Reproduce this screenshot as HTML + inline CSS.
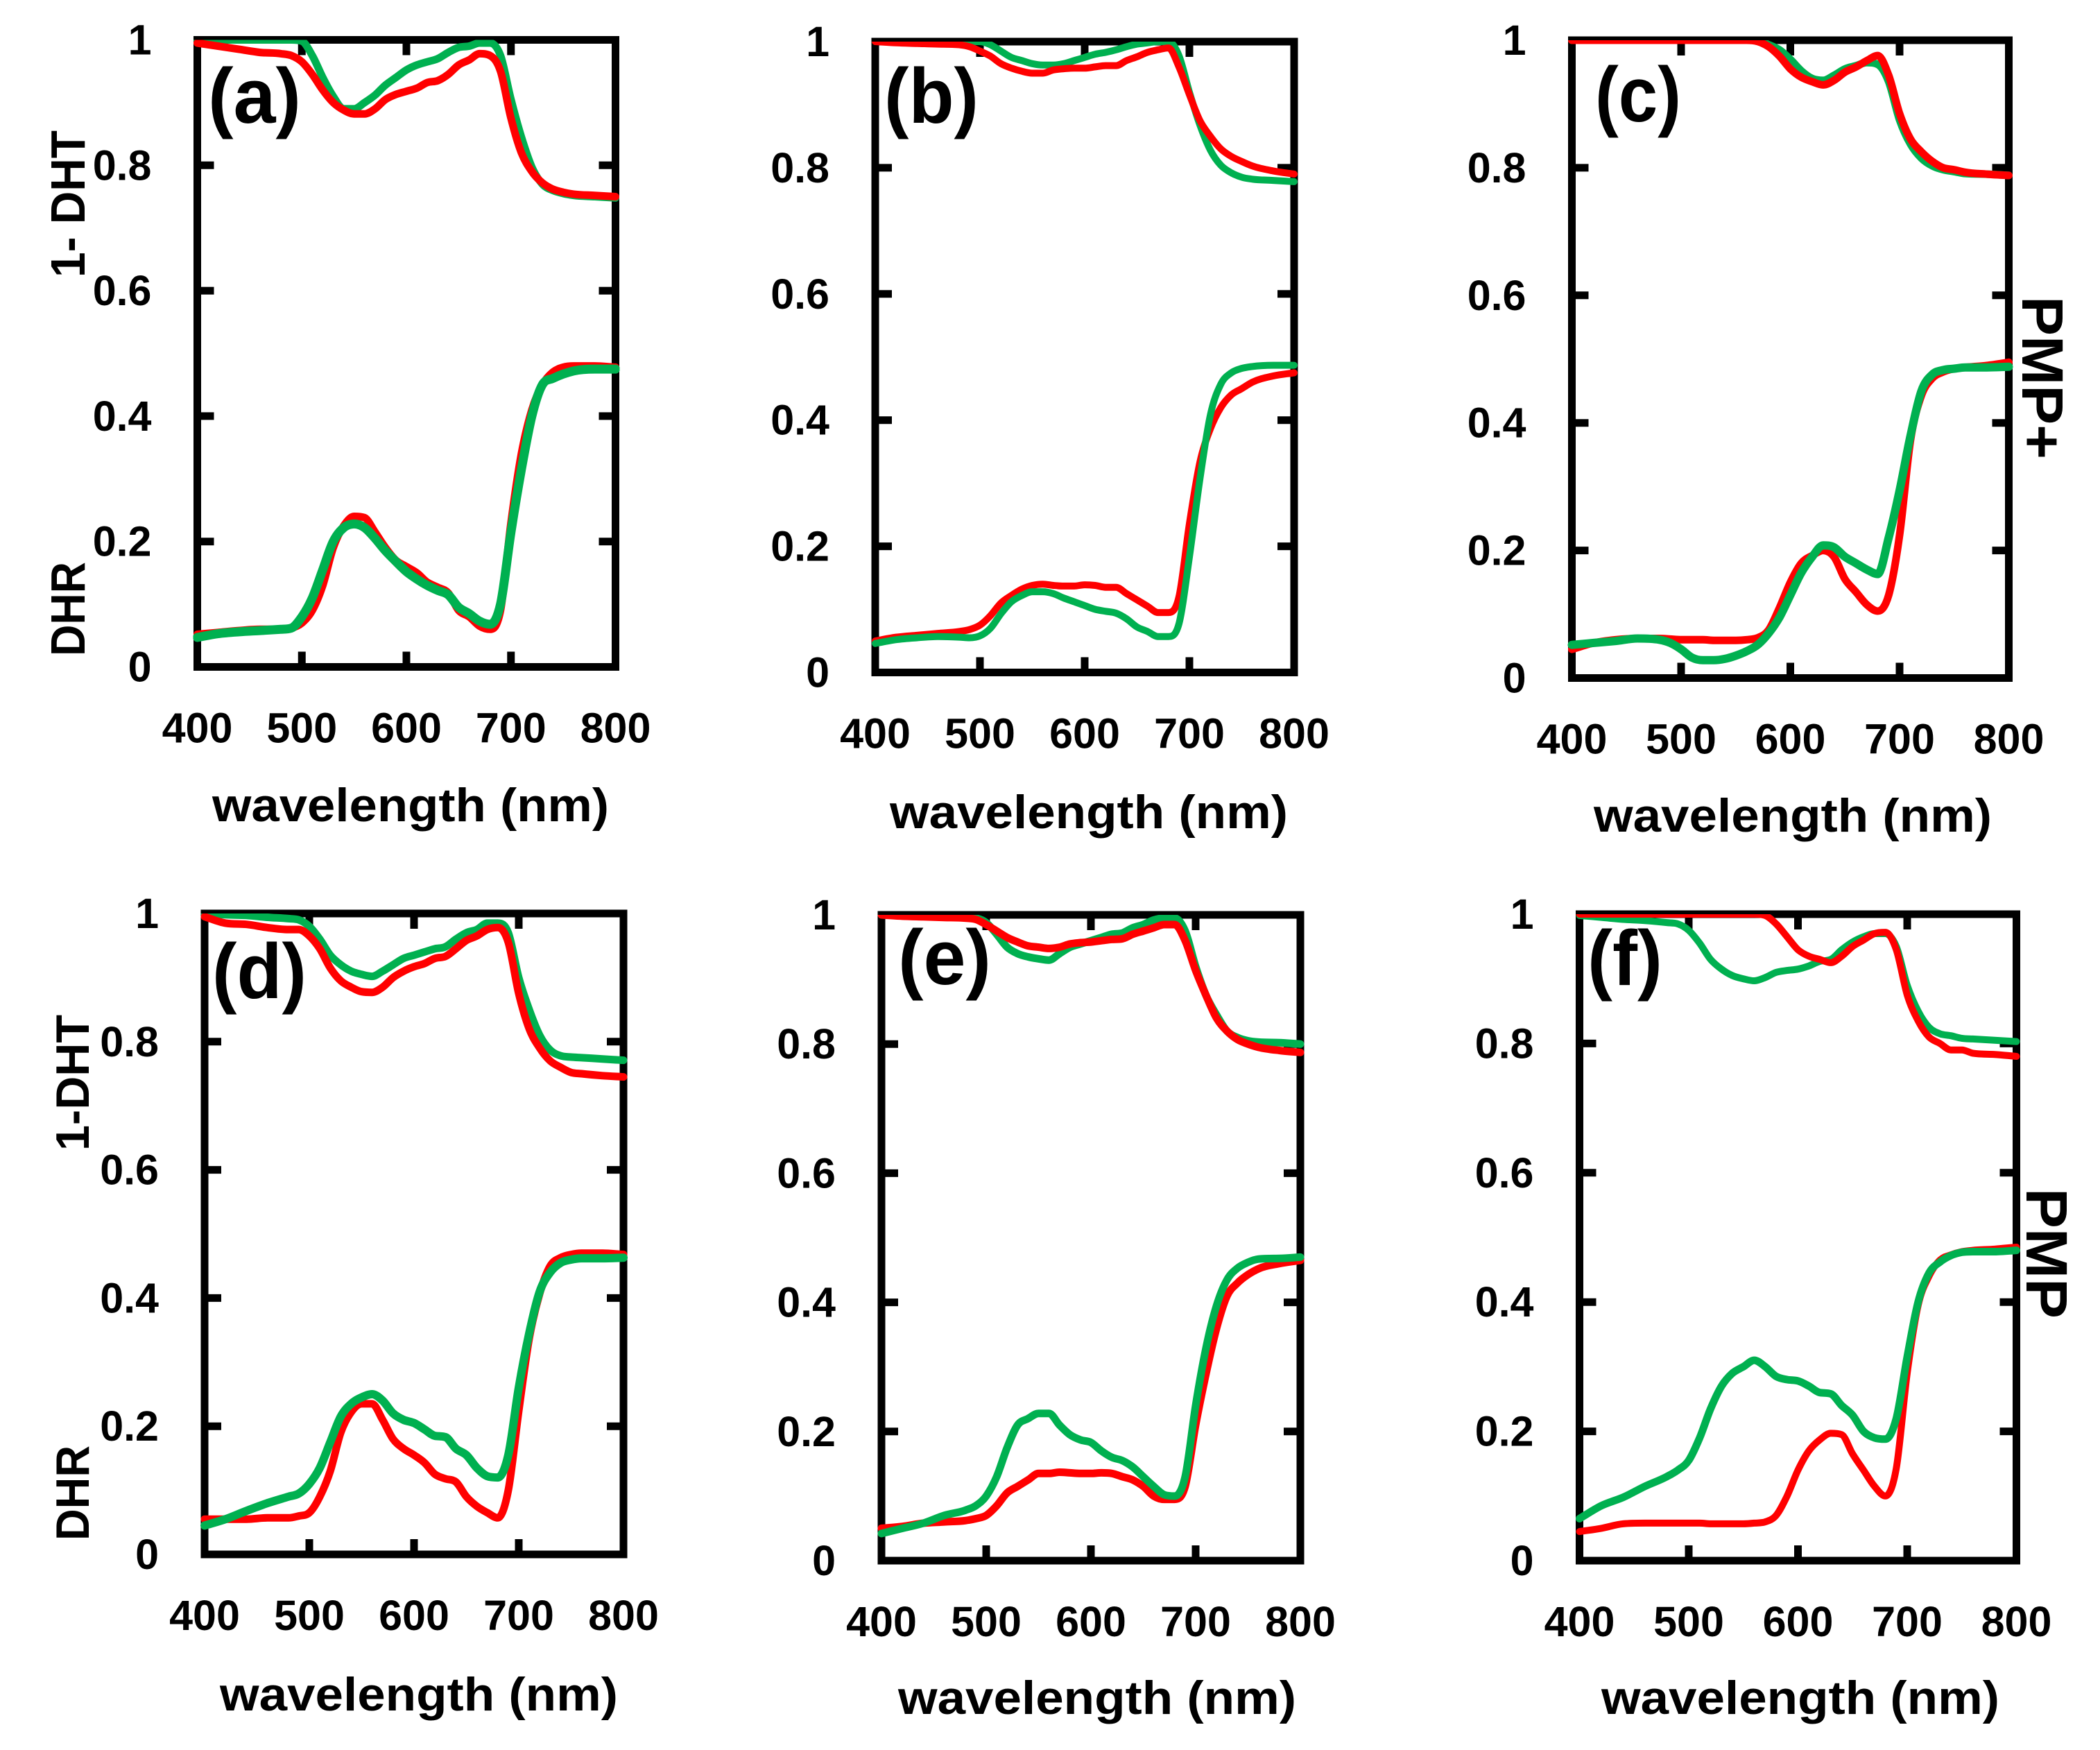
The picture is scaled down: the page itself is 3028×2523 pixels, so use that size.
<!DOCTYPE html>
<html lang="en">
<head>
<meta charset="utf-8">
<title>DHR and 1-DHT spectra</title>
<style>
html,body{margin:0;padding:0;background:#fff;}
svg{display:block;}
text{font-family:"Liberation Sans",sans-serif;font-weight:bold;fill:#000;}
</style>
</head>
<body>
<svg id="figure" xmlns="http://www.w3.org/2000/svg" width="3028" height="2523" viewBox="0 0 3028 2523">
<rect width="3028" height="2523" fill="#fff"/>
<g id="plots"></g>

<text x="300" y="177" font-size="112" textLength="134" lengthAdjust="spacingAndGlyphs">(a)</text>
<text x="1275" y="177" font-size="112" textLength="136" lengthAdjust="spacingAndGlyphs">(b)</text>
<text x="2300" y="175" font-size="112" textLength="124" lengthAdjust="spacingAndGlyphs">(c)</text>
<text x="306" y="1439" font-size="112" textLength="136" lengthAdjust="spacingAndGlyphs">(d)</text>
<text x="1295" y="1419" font-size="112" textLength="134" lengthAdjust="spacingAndGlyphs">(e)</text>
<text x="2289" y="1420" font-size="112" textLength="108" lengthAdjust="spacingAndGlyphs">(f)</text>

<text x="306" y="1184" font-size="68" textLength="572" lengthAdjust="spacingAndGlyphs">wavelength (nm)</text>
<text x="1283" y="1194" font-size="68" textLength="574" lengthAdjust="spacingAndGlyphs">wavelength (nm)</text>
<text x="2298" y="1199" font-size="68" textLength="574" lengthAdjust="spacingAndGlyphs">wavelength (nm)</text>
<text x="317" y="2466" font-size="68" textLength="574" lengthAdjust="spacingAndGlyphs">wavelength (nm)</text>
<text x="1295" y="2471" font-size="68" textLength="574" lengthAdjust="spacingAndGlyphs">wavelength (nm)</text>
<text x="2309" y="2471" font-size="68" textLength="574" lengthAdjust="spacingAndGlyphs">wavelength (nm)</text>

<text transform="translate(122,400) rotate(-90)" font-size="70" textLength="212" lengthAdjust="spacingAndGlyphs">1- DHT</text>
<text transform="translate(122,946) rotate(-90)" font-size="70" textLength="136" lengthAdjust="spacingAndGlyphs">DHR</text>
<text transform="translate(128,1659) rotate(-90)" font-size="68" textLength="196" lengthAdjust="spacingAndGlyphs">1-DHT</text>
<text transform="translate(128,2221) rotate(-90)" font-size="68" textLength="137" lengthAdjust="spacingAndGlyphs">DHR</text>

<text transform="translate(2916,427) rotate(90)" font-size="84" textLength="235" lengthAdjust="spacingAndGlyphs">PMP+</text>
<text transform="translate(2922,1713) rotate(90)" font-size="84" textLength="188" lengthAdjust="spacingAndGlyphs">PMP</text>
</svg>

<script>
// Shared axis data
const wavelengths = [400,420,440,460,480, 490,500,510,520,530, 540,550,560,570,580, 590,600,610,620,630, 640,650,660,670,680, 690,700,710,720,730, 740,750,760,780,800];
const xTickLabels = [400,500,600,700,800];
const yTickLabels = [0,0.2,0.4,0.6,0.8,1];

// Panel (a)
const aTransRed   = [.995,.99,.985,.98,.978, .975,.965,.945,.92,.90, .888,.882,.882,.89,.905, .913,.918,.923,.932,.935, .945,.96,.968,.978,.975, .95,.875,.82,.79,.772, .762,.757,.754,.752,.75];
const aTransGreen = [1,1,1,1,1, 1,.998,.975,.94,.91, .89,.89,.90,.912,.928, .94,.952,.96,.965,.97, .98,.988,.99,.995,.995, .975,.905,.845,.797,.77, .76,.755,.752,.75,.748];
const aReflRed    = [.052,.055,.058,.06,.06, .062,.07,.09,.13,.19, .225,.24,.238,.215,.19, .17,.16,.15,.135,.127, .118,.09,.08,.065,.06, .09,.23,.34,.41,.45, .47,.478,.48,.48,.478];
const aReflGreen  = [.047,.053,.056,.058,.06, .062,.08,.11,.155,.20, .222,.228,.222,.205,.185, .168,.152,.14,.13,.122, .115,.095,.085,.073,.068, .10,.215,.315,.40,.45, .46,.467,.472,.475,.475];

// Panel (b)
const bTransRed   = [1,.998,.997,.996,.995, .992,.985,.977,.965,.958, .953,.95,.95,.955,.957, .958,.958,.96,.962,.962, .97,.976,.983,.987,.99, .96,.916,.875,.85,.83, .818,.81,.803,.795,.79];
const bTransGreen = [1,1,1,1,1, 1,1,.995,.985,.975, .97,.965,.963,.963,.965, .97,.975,.98,.983,.987, .992,.996,.998,1,1, .978,.92,.868,.828,.804, .792,.785,.782,.78,.778];
const bReflRed    = [.05,.056,.059,.062,.065, .068,.075,.09,.11,.122, .132,.138,.14,.138,.137, .137,.139,.138,.135,.135, .125,.115,.105,.095,.095, .12,.236,.333,.386,.42, .44,.45,.46,.47,.475];
const bReflGreen  = [.046,.052,.055,.057,.056, .055,.058,.07,.093,.112, .122,.128,.128,.125,.118, .112,.106,.1,.097,.094, .085,.072,.065,.057,.057, .077,.183,.306,.408,.457, .475,.482,.485,.487,.487];

// Panel (c)
const cTransRed   = [1,1,1,1,1, 1,1,1,1,1, 1,1,1,.998,.99, .975,.955,.942,.935,.93, .937,.95,.958,.968,.976, .945,.885,.845,.825,.81, .80,.797,.793,.79,.788];
const cTransGreen = [1,1,1,1,1, 1,1,1,1,1, 1,1,1,1,.993, .985,.97,.952,.94,.937, .945,.955,.96,.965,.962, .935,.875,.837,.815,.803, .797,.794,.791,.79,.788];
const cReflRed    = [.045,.055,.06,.062,.062, .061,.06,.06,.06,.059, .059,.059,.06,.063,.075, .11,.15,.18,.192,.20, .19,.155,.135,.115,.105, .13,.224,.373,.443,.47, .48,.485,.487,.49,.495];
const cReflGreen  = [.052,.055,.058,.062,.06, .055,.045,.032,.028,.028, .03,.035,.042,.052,.07, .095,.13,.165,.19,.208, .205,.19,.18,.17,.163, .22,.294,.38,.45,.476, .483,.485,.487,.487,.488];

// Panel (d)
const dTransRed   = [.995,.985,.983,.978,.975, .975,.965,.945,.915,.895, .885,.878,.877,.885,.90, .91,.917,.922,.93,.933, .945,.958,.965,.975,.978, .955,.875,.82,.79,.77, .76,.752,.75,.747,.745];
const dTransGreen = [1,.998,.997,.994,.992, .99,.98,.96,.935,.92, .91,.905,.902,.91,.92, .93,.935,.94,.945,.948, .96,.97,.975,.985,.985, .97,.90,.85,.81,.787, .778,.776,.775,.773,.771];
const dReflRed    = [.055,.055,.055,.057,.057, .06,.065,.09,.13,.19, .222,.235,.235,.21,.18, .165,.155,.143,.125,.118, .113,.09,.075,.065,.057, .10,.224,.337,.407,.45, .463,.468,.47,.47,.468];
const dReflGreen  = [.045,.055,.068,.08,.09, .095,.11,.135,.175,.215, .235,.245,.25,.24,.22, .21,.205,.195,.185,.183, .165,.155,.135,.122,.12, .155,.26,.345,.41,.44, .455,.46,.462,.462,.463];

// Panel (e)
const eTransRed   = [1,.998,.997,.996,.995, .993,.985,.975,.965,.958, .952,.95,.948,.95,.955, .957,.958,.96,.962,.963, .97,.975,.98,.985,.985, .96,.914,.875,.84,.82, .807,.80,.795,.79,.787];
const eTransGreen = [1,.999,.998,.997,.996, .995,.988,.97,.95,.94, .935,.932,.93,.94,.95, .955,.96,.965,.97,.972, .98,.985,.992,.995,.995, .975,.92,.875,.845,.82, .81,.805,.803,.802,.80];
const eReflRed    = [.05,.053,.058,.06,.062, .065,.07,.085,.105,.115, .125,.135,.135,.137,.136, .135,.135,.136,.135,.13, .125,.115,.10,.095,.095, .115,.21,.29,.36,.41, .43,.443,.452,.46,.465];
const eReflGreen  = [.042,.05,.058,.07,.078, .085,.10,.13,.175,.21, .22,.228,.228,.21,.195, .187,.183,.17,.16,.155, .145,.13,.115,.102,.10, .13,.24,.33,.395,.435, .453,.462,.467,.468,.47];

// Panel (f)
const fTransRed   = [1,1,1,1,1, 1,1,1,1,1, 1,1,1,.998,.985, .965,.945,.935,.93,.925, .935,.95,.96,.97,.972, .945,.875,.835,.81,.80, .79,.79,.785,.783,.78];
const fTransGreen = [.998,.995,.992,.99,.987, .985,.975,.955,.93,.915, .905,.90,.897,.902,.91, .913,.915,.92,.927,.93, .945,.957,.965,.97,.97, .95,.89,.85,.825,.815, .812,.808,.807,.805,.803];
const fReflRed    = [.045,.05,.057,.058,.058, .058,.058,.058,.057,.057, .057,.057,.058,.06,.07, .10,.14,.17,.187,.197, .195,.165,.14,.115,.10, .143,.29,.395,.44,.465, .473,.478,.48,.482,.485];
const fReflGreen  = [.065,.085,.098,.115,.13, .14,.155,.19,.235,.27, .29,.30,.31,.30,.285, .28,.278,.27,.26,.258, .24,.225,.20,.19,.188, .22,.315,.40,.445,.462, .472,.477,.478,.478,.48];

const RED = '#ff0000';
const GREEN = '#00b050';
const NS = 'http://www.w3.org/2000/svg';
const root = document.getElementById('plots');

function make(tag, attrs, parent) {
  const el = document.createElementNS(NS, tag);
  for (const k in attrs) el.setAttribute(k, attrs[k]);
  parent.appendChild(el);
  return el;
}

// Smooth cubic path: weighted central-difference tangents with a Fritsch-Carlson limiter
function smoothPath(xs, ys) {
  const n = xs.length;
  const d = [], m = new Array(n);
  for (let i = 0; i < n - 1; i++) d.push((ys[i + 1] - ys[i]) / (xs[i + 1] - xs[i]));
  m[0] = d[0];
  m[n - 1] = d[n - 2];
  for (let i = 1; i < n - 1; i++) {
    if (d[i - 1] * d[i] <= 0) { m[i] = 0; continue; }
    const h0 = xs[i] - xs[i - 1], h1 = xs[i + 1] - xs[i];
    m[i] = (d[i - 1] * h1 + d[i] * h0) / (h0 + h1);
  }
  for (let i = 0; i < n - 1; i++) {
    if (d[i] === 0) { m[i] = 0; m[i + 1] = 0; continue; }
    const a = m[i] / d[i], b = m[i + 1] / d[i], s = a * a + b * b;
    if (s > 9) {
      const t = 3 / Math.sqrt(s);
      m[i] = t * a * d[i];
      m[i + 1] = t * b * d[i];
    }
  }
  let p = 'M' + xs[0].toFixed(1) + ' ' + ys[0].toFixed(1);
  for (let i = 0; i < n - 1; i++) {
    const h = (xs[i + 1] - xs[i]) / 3;
    p += 'C' + (xs[i] + h).toFixed(1) + ' ' + (ys[i] + m[i] * h).toFixed(1) + ' ' +
         (xs[i + 1] - h).toFixed(1) + ' ' + (ys[i + 1] - m[i + 1] * h).toFixed(1) + ' ' +
         xs[i + 1].toFixed(1) + ' ' + ys[i + 1].toFixed(1);
  }
  return p;
}

function drawPanel(id, left, right, top, bottom, series) {
  const xScale = v => left + (v - 400) * (right - left) / 400;
  const yScale = v => bottom - v * (bottom - top);

  const g = make('g', {}, root);
  
  

  const clip = make('clipPath', {id: 'clip-' + id}, g);
  
  
  make('rect', {x: left - 6, y: top, width: right - left + 12, height: bottom - top}, clip);

  xTickLabels.forEach(v => {
    const px = xScale(v);
    if (v !== 400 && v !== 800) {
      const tb = make('line', {x1: px, x2: px, y1: bottom, y2: bottom - 22, stroke: '#000', 'stroke-width': 11}, g);
      
      
      const tt = make('line', {x1: px, x2: px, y1: top, y2: top + 22, stroke: '#000', 'stroke-width': 11}, g);
      
      
    }
    const lb = make('text', {x: px, y: bottom + 109, 'font-size': 61, 'text-anchor': 'middle'}, g);
    
    
    lb.textContent = v;
  });

  yTickLabels.forEach(v => {
    const py = yScale(v);
    if (v !== 0 && v !== 1) {
      const tl = make('line', {x1: left, x2: left + 24, y1: py, y2: py, stroke: '#000', 'stroke-width': 11}, g);
      
      
      const tr = make('line', {x1: right, x2: right - 24, y1: py, y2: py, stroke: '#000', 'stroke-width': 11}, g);
      
      
    }
    const lb = make('text', {x: left - 66, y: py + 21, 'font-size': 61, 'text-anchor': 'end'}, g);
    
    
    lb.textContent = v;
  });

  const frame = make('rect', {x: left, y: top, width: right - left, height: bottom - top, fill: 'none', stroke: '#000', 'stroke-width': 11}, g);
  
  

  series.forEach(s => {
    const xs = wavelengths.map(xScale);
    const ys = s.values.map(yScale);
    const line = make('path', {d: smoothPath(xs, ys), fill: 'none', stroke: s.color, 'stroke-width': s.width, 'stroke-linecap': 'round', 'stroke-linejoin': 'round', 'clip-path': 'url(#clip-' + id + ')'}, g);
    
    
  });
}

function seriesSet(tr, tg, rr, rg, w, wr) {
  return [
    {name: 'dht-green-line', color: GREEN, width: w, values: tg},
    {name: 'dht-red-line', color: RED, width: w, values: tr},
    {name: 'dhr-red-line', color: RED, width: w, values: rr},
    {name: 'dhr-green-line', color: GREEN, width: wr, values: rg}
  ];
}

drawPanel('a', 284.5, 887.5, 57.5, 961.5, seriesSet(aTransRed, aTransGreen, aReflRed, aReflGreen, 11, 13));
drawPanel('b', 1262, 1866, 60, 969.5, seriesSet(bTransRed, bTransGreen, bReflRed, bReflGreen, 10, 10));
drawPanel('c', 2266.5, 2896.5, 58, 977.5, seriesSet(cTransRed, cTransGreen, cReflRed, cReflGreen, 11, 12));
drawPanel('d', 295, 899, 1317, 2241, seriesSet(dTransRed, dTransGreen, dReflRed, dReflGreen, 11, 12));
drawPanel('e', 1271, 1875, 1319, 2250, seriesSet(eTransRed, eTransGreen, eReflRed, eReflGreen, 11, 11));
drawPanel('f', 2277.5, 2907.5, 1318, 2250, seriesSet(fTransRed, fTransGreen, fReflRed, fReflGreen, 10, 11));
</script>
</body>
</html>
